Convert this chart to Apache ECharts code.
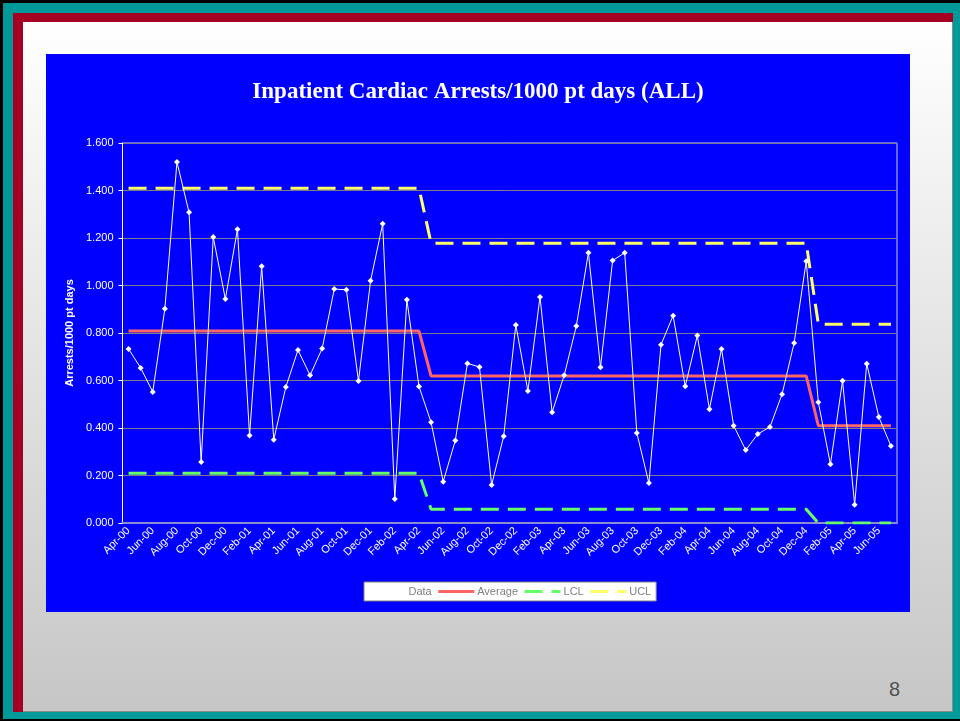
<!DOCTYPE html>
<html>
<head>
<meta charset="utf-8">
<script src="https://cdn.jsdelivr.net/npm/echarts@6/dist/echarts.min.js"></script>
<style>
  html, body { margin: 0; padding: 0; width: 960px; height: 721px; overflow: hidden; background: #009999; }
  #blackL { position: absolute; left: 0; top: 0; width: 3px; height: 721px; background: #000; }
  #blackT { position: absolute; left: 0; top: 0; width: 960px; height: 3px; background: #000; }
  #blackB { position: absolute; left: 0; top: 719px; width: 960px; height: 2px; background: #000; }
  #red { position: absolute; left: 13px; top: 13px; width: 940px; height: 699px; background: #A50021; }
  #content { position: absolute; left: 23px; top: 22px; width: 929px; height: 689px;
             background: linear-gradient(to bottom, #ffffff 0%, #c6c6c6 100%);
             border-right: 1px solid #8a8a8a; border-bottom: 1px solid #8a8a8a; }
  #chart { position: absolute; left: 46px; top: 54px; width: 864px; height: 558px; }
  #pagenum { position: absolute; left: 889px; top: 678px; font-family: 'Liberation Sans', Arial, sans-serif;
             font-size: 20px; color: #505050; }
</style>
</head>
<body>
<div id="blackL"></div><div id="blackT"></div><div id="blackB"></div>
<div id="red"></div>
<div id="content"></div>
<div id="chart"></div>
<div id="pagenum">8</div>
<script>
const categories = [
  'Apr-00','May-00','Jun-00','Jul-00','Aug-00','Sep-00','Oct-00','Nov-00','Dec-00',
  'Jan-01','Feb-01','Mar-01','Apr-01','May-01','Jun-01','Jul-01','Aug-01','Sep-01','Oct-01','Nov-01','Dec-01',
  'Jan-02','Feb-02','Mar-02','Apr-02','May-02','Jun-02','Jul-02','Aug-02','Sep-02','Oct-02','Nov-02','Dec-02',
  'Jan-03','Feb-03','Mar-03','Apr-03','May-03','Jun-03','Jul-03','Aug-03','Sep-03','Oct-03','Nov-03','Dec-03',
  'Jan-04','Feb-04','Mar-04','Apr-04','May-04','Jun-04','Jul-04','Aug-04','Sep-04','Oct-04','Nov-04','Dec-04',
  'Jan-05','Feb-05','Mar-05','Apr-05','May-05','Jun-05','Jul-05'
];

const dataValues = [
  0.733, 0.653, 0.552, 0.902, 1.520, 1.308, 0.257, 1.204, 0.943,
  1.237, 0.368, 1.081, 0.351, 0.573, 0.728, 0.622, 0.735, 0.985, 0.982, 0.598, 1.020,
  1.260, 0.101, 0.940, 0.575, 0.424, 0.174, 0.347, 0.672, 0.657, 0.160, 0.365, 0.834,
  0.556, 0.952, 0.466, 0.622, 0.829, 1.138, 0.656, 1.105, 1.138, 0.379, 0.168, 0.751,
  0.873, 0.576, 0.789, 0.479, 0.733, 0.410, 0.307, 0.375, 0.404, 0.542, 0.758, 1.102,
  0.508, 0.247, 0.599, 0.077, 0.671, 0.446, 0.324
];

const averageValues = [
  0.808, 0.808, 0.808, 0.808, 0.808, 0.808, 0.808, 0.808, 0.808,
  0.808, 0.808, 0.808, 0.808, 0.808, 0.808, 0.808, 0.808, 0.808, 0.808, 0.808, 0.808,
  0.808, 0.808, 0.808, 0.808, 0.619, 0.619, 0.619, 0.619, 0.619, 0.619, 0.619, 0.619,
  0.619, 0.619, 0.619, 0.619, 0.619, 0.619, 0.619, 0.619, 0.619, 0.619, 0.619, 0.619,
  0.619, 0.619, 0.619, 0.619, 0.619, 0.619, 0.619, 0.619, 0.619, 0.619, 0.619, 0.619,
  0.410, 0.410, 0.410, 0.410, 0.410, 0.410, 0.410
];

const lclValues = [
  0.209, 0.209, 0.209, 0.209, 0.209, 0.209, 0.209, 0.209, 0.209,
  0.209, 0.209, 0.209, 0.209, 0.209, 0.209, 0.209, 0.209, 0.209, 0.209, 0.209, 0.209,
  0.209, 0.209, 0.209, 0.209, 0.058, 0.058, 0.058, 0.058, 0.058, 0.058, 0.058, 0.058,
  0.058, 0.058, 0.058, 0.058, 0.058, 0.058, 0.058, 0.058, 0.058, 0.058, 0.058, 0.058,
  0.058, 0.058, 0.058, 0.058, 0.058, 0.058, 0.058, 0.058, 0.058, 0.058, 0.058, 0.058,
  0.000, 0.000, 0.000, 0.000, 0.000, 0.000, 0.000
];

const uclValues = [
  1.409, 1.409, 1.409, 1.409, 1.409, 1.409, 1.409, 1.409, 1.409,
  1.409, 1.409, 1.409, 1.409, 1.409, 1.409, 1.409, 1.409, 1.409, 1.409, 1.409, 1.409,
  1.409, 1.409, 1.409, 1.409, 1.178, 1.178, 1.178, 1.178, 1.178, 1.178, 1.178, 1.178,
  1.178, 1.178, 1.178, 1.178, 1.178, 1.178, 1.178, 1.178, 1.178, 1.178, 1.178, 1.178,
  1.178, 1.178, 1.178, 1.178, 1.178, 1.178, 1.178, 1.178, 1.178, 1.178, 1.178, 1.178,
  0.837, 0.837, 0.837, 0.837, 0.837, 0.837, 0.837
];

const chart = echarts.init(document.getElementById('chart'), null, { renderer: 'canvas' });
const FONT = "'Liberation Sans', Arial, sans-serif";

chart.setOption({
  animation: false,
  backgroundColor: '#0000FF',
  title: {
    text: 'Inpatient Cardiac Arrests/1000 pt days (ALL)',
    left: 'center',
    top: 27,
    padding: 0,
    textStyle: { fontFamily: "'Liberation Serif', 'Times New Roman', serif", fontWeight: 'bold', fontSize: 23, color: '#ffffff' }
  },
  legend: {
    left: 318,
    top: 528,
    padding: [4, 5, 4, 4],
    itemGap: 5,
    itemWidth: 36,
    itemHeight: 10,
    backgroundColor: '#ffffff',
    borderColor: '#808080',
    borderWidth: 1,
    itemStyle: { opacity: 0 },
    lineStyle: { width: 3 },
    textStyle: { fontFamily: FONT, fontSize: 11, color: '#7f7f7f', padding: [0, 0, 0, -2] },
    data: ['Data', 'Average', 'LCL', 'UCL']
  },
  grid: {
    left: 76.5, right: 13, top: 89, bottom: 89,
    show: true,
    borderColor: '#c8c8ff',
    borderWidth: 1
  },
  xAxis: {
    type: 'category',
    data: categories,
    boundaryGap: true,
    axisLine: { lineStyle: { color: '#8c8cd0', width: 2 } },
    axisTick: { interval: 1, length: 4, lineStyle: { color: '#8c8cd0' } },
    axisLabel: { interval: 1, rotate: 45, margin: 6, color: '#ffffff', fontFamily: FONT, fontSize: 11 },
    splitLine: { show: false }
  },
  yAxis: {
    type: 'value',
    min: 0, max: 1.6, interval: 0.2,
    name: 'Arrests/1000 pt days',
    nameLocation: 'middle',
    nameGap: 45,
    nameTextStyle: { color: '#ffffff', fontFamily: FONT, fontWeight: 'bold', fontSize: 11 },
    axisLine: { show: true, lineStyle: { color: '#ffffff', width: 1 } },
    axisTick: { show: true, length: 4, lineStyle: { color: '#ffffff' } },
    axisLabel: { color: '#ffffff', fontFamily: FONT, fontSize: 11, margin: 9,
                 formatter: v => v.toFixed(3) },
    splitLine: { lineStyle: { color: '#7a7a8a', width: 1 } }
  },
  series: [
    {
      name: 'Data', type: 'line', data: dataValues,
      symbol: 'diamond', symbolSize: 6, showAllSymbol: true,
      lineStyle: { color: '#ffffff', width: 1 },
      itemStyle: { color: '#ffffff' },
      z: 5
    },
    {
      name: 'Average', type: 'line', data: averageValues,
      symbol: 'none',
      lineStyle: { color: '#FF6464', width: 3 },
      itemStyle: { color: '#FF6464' },
      z: 3
    },
    {
      name: 'LCL', type: 'line', data: lclValues,
      symbol: 'none',
      lineStyle: { color: '#66FF66', width: 3, type: [18, 9] },
      itemStyle: { color: '#66FF66' },
      z: 3
    },
    {
      name: 'UCL', type: 'line', data: uclValues,
      symbol: 'none',
      lineStyle: { color: '#FFFF66', width: 3, type: [18, 9] },
      itemStyle: { color: '#FFFF66' },
      z: 3
    }
  ]
});
</script>
</body>
</html>
